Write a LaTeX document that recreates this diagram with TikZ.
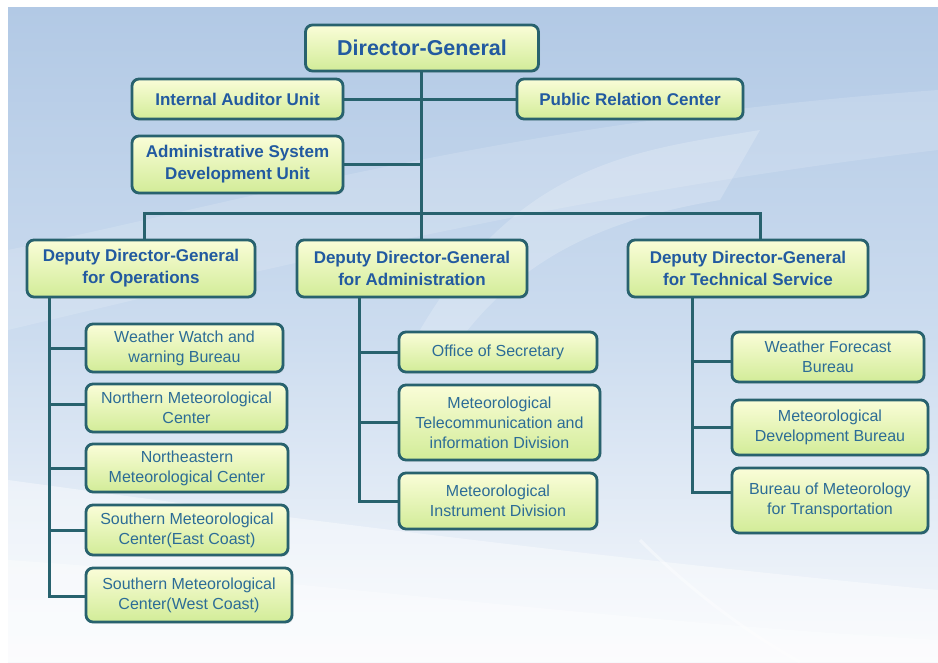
\documentclass[tikz,border=0pt]{standalone}
\usepackage{fontspec}
\setmainfont{Liberation Sans}
\usetikzlibrary{shadows,fadings}

\definecolor{lineC}{RGB}{40,98,110}
\definecolor{fillTop}{RGB}{250,253,216}
\definecolor{fillBot}{RGB}{210,236,152}
\definecolor{headText}{RGB}{34,90,160}
\definecolor{unitText}{RGB}{44,108,150}
\definecolor{bgTop}{RGB}{178,201,229}
\definecolor{bgMid}{RGB}{204,220,239}
\definecolor{bgBot}{RGB}{247,249,252}

\tikzset{
  box/.style={draw=lineC, line width=2.8pt, rounded corners=7pt,
    top color=fillTop, bottom color=fillBot, align=center, inner sep=0pt,
    drop shadow={opacity=0.18, shadow xshift=1.5pt, shadow yshift=-1.5pt}},
  sz/.style 2 args={minimum width=#1pt, minimum height=#2pt},
  chief/.style={box, font=\fontsize{21.5}{25}\selectfont\bfseries, text=headText},
  head/.style={box, font=\fontsize{17}{22}\selectfont\bfseries, text=headText},
  unit/.style={box, font=\fontsize{16}{20}\selectfont, text=unitText},
  link/.style={draw=lineC, line width=3pt},
}

\begin{document}
\begin{tikzpicture}[x=1pt, y=-1pt]
  % canvas and soft background
  \useasboundingbox (0,0) rectangle (938,662);
  \fill[white] (0,0) rectangle (938,662);
  \shade[top color=bgTop, bottom color=bgBot, middle color=bgMid]
    (8,7) rectangle (938,662);
  % light swooshes
  \fill[white, opacity=0.15]
    (8,250) .. controls (250,200) and (520,120) .. (938,90)
    -- (938,150) .. controls (600,190) and (300,260) .. (8,330) -- cycle;
  \fill[white, opacity=0.2]
    (420,330) .. controls (520,160) and (640,150) .. (760,130)
    -- (720,200) .. controls (600,220) and (520,260) .. (460,340) -- cycle;
  \fill[white, opacity=0.4]
    (8,480) .. controls (300,520) and (620,560) .. (938,590)
    -- (938,662) -- (8,662) -- cycle;
  \fill[white, opacity=0.35]
    (8,560) .. controls (300,580) and (600,620) .. (938,640)
    -- (938,662) -- (8,662) -- cycle;
  \draw[white, opacity=0.4, line width=3pt]
    (640,540) .. controls (700,600) and (760,640) .. (800,662);

  % top level
  \node[chief, sz={233}{46}] (dg)   at (422,48)    {Director-General};
  \node[head,  sz={211}{40}] (iau)  at (237.5,99)  {Internal Auditor Unit};
  \node[head,  sz={226}{40}] (prc)  at (630,99)    {Public Relation Center};
  \node[head,  sz={211}{57}] (asd)  at (237.5,164.5) {Administrative System\\Development Unit};

  % deputy directors
  \node[head, sz={228}{57}] (ddgo) at (141,268.5) {Deputy Director-General\\for Operations};
  \node[head, sz={230}{57}] (ddga) at (412,268.5) {Deputy Director-General\\for Administration};
  \node[head, sz={240}{57}] (ddgt) at (748,268.5) {Deputy Director-General\\for Technical Service};

  % operations units
  \node[unit, sz={197}{48}] (ww)   at (184.5,348) {Weather Watch and\\warning Bureau};
  \node[unit, sz={201}{48}] (nmc)  at (186.5,408) {Northern Meteorological\\Center};
  \node[unit, sz={202}{48}] (nemc) at (187,468)   {Northeastern\\Meteorological Center};
  \node[unit, sz={202}{50}] (smce) at (187,530)   {Southern Meteorological\\Center(East Coast)};
  \node[unit, sz={206}{54}] (smcw) at (189,595)   {Southern Meteorological\\Center(West Coast)};

  % administration units
  \node[unit, sz={198}{40}] (ofs)  at (498,352)   {Office of Secretary};
  \node[unit, sz={201}{75}] (mtid) at (499.5,422.5) {Meteorological\\Telecommunication and\\information Division};
  \node[unit, sz={198}{56}] (mid)  at (498,501)   {Meteorological\\Instrument Division};

  % technical service units
  \node[unit, sz={192}{50}] (wfb)  at (828,357)   {Weather Forecast\\Bureau};
  \node[unit, sz={196}{55}] (mdb)  at (830,427.5) {Meteorological\\Development Bureau};
  \node[unit, sz={196}{65}] (bmt)  at (830,500.5) {Bureau of Meteorology\\for Transportation};

  % trunk, bus and drop points
  \coordinate (bus)   at (421,213);
  \coordinate (busL)  at (144,213);
  \coordinate (busR)  at (760,213);
  \coordinate (opsX)  at (49,0);
  \coordinate (admX)  at (359,0);
  \coordinate (tecX)  at (692,0);

  % director-general trunk and staff units
  \draw[link] (dg.south -| bus) -- (bus |- ddga.north);
  \draw[link] (iau.east) -- (iau.east -| bus);
  \draw[link] (prc.west) -- (prc.west -| bus);
  \draw[link] (asd.east) -- (asd.east -| bus);
  \draw[link] (busL |- ddgo.north) -- (busL) -- (busR) -- (busR |- ddgt.north);

  % operations branch
  \draw[link] (ddgo.south -| opsX) -- ([yshift=-1pt]smcw.west -| opsX) -- ([yshift=-1pt]smcw.west);
  \draw[link] (ww.west -| opsX) -- (ww.west);
  \draw[link] ([yshift=4pt]nmc.west -| opsX) -- ([yshift=4pt]nmc.west);
  \draw[link] (nemc.west -| opsX) -- (nemc.west);
  \draw[link] (smce.west -| opsX) -- (smce.west);

  % administration branch
  \draw[link] (ddga.south -| admX) -- (mid.west -| admX) -- (mid.west);
  \draw[link] (ofs.west -| admX) -- (ofs.west);
  \draw[link] (mtid.west -| admX) -- (mtid.west);

  % technical service branch
  \draw[link] (ddgt.south -| tecX) -- ([yshift=8pt]bmt.west -| tecX) -- ([yshift=8pt]bmt.west);
  \draw[link] ([yshift=-4pt]wfb.west -| tecX) -- ([yshift=-4pt]wfb.west);
  \draw[link] (mdb.west -| tecX) -- (mdb.west);
\end{tikzpicture}
\end{document}
